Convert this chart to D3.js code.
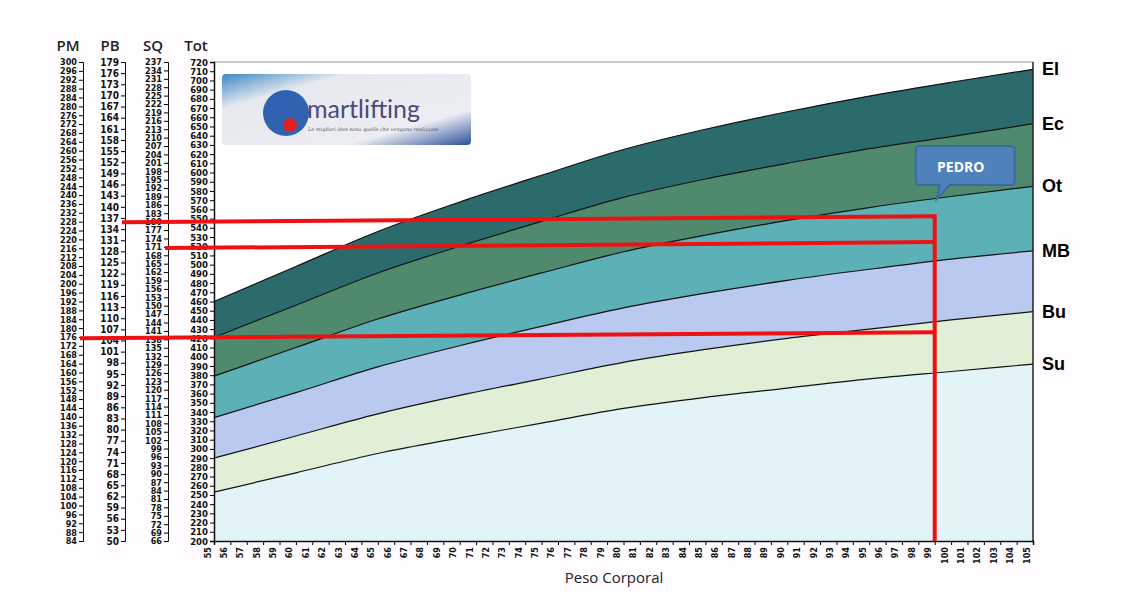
<!DOCTYPE html>
<html><head><meta charset="utf-8">
<script src="https://cdn.jsdelivr.net/npm/d3@7"></script>
<style>body{margin:0;background:#fff}</style></head>
<body><svg id="c" width="1121" height="609"></svg>
<script>
const weights=[55,60,65,70,75,80,85,90,95,100,105];
const El=[460,498,536,568,597,625,647,666,683,698,712];
const Ec=[421,456,491,520,547,573,593,610,626,639,653];
const Ot=[379,410,441,467,491,514,532,548,562,574,585];
const MB=[334,361,389,412,433,453,469,483,495,506,515];
const Bu=[290,314,338,358,376,394,408,420,430,440,449];
const Su=[253,274,295,312,328,344,356,366,376,384,392];
const bandNames=["El","Ec","Ot","MB","Bu","Su"];
const bandColors=["#2b6b6c","#4f8a6f","#5cb1b6","#b9c9ef","#e1efd7","#e2f4f8"];
const pedroWeight=99, pedroLines=[{tot:546,from:"PB"},{tot:518,from:"SQ"},{tot:420,from:"PM"}];
const pmTicks=d3.range(84,301,4), pbTicks=d3.range(50,180,3), sqTicks=d3.range(66,238,3), totTicks=d3.range(200,721,10);

const svg=d3.select("#c");
svg.append("rect").attr("width",1121).attr("height",609).attr("fill","#fefcfe");
const x=d3.scaleLinear().domain([55,105]).range([214,1033]);
const y=d3.scaleLinear().domain([200,720]).range([541,62]);
const series=[El,Ec,Ot,MB,Bu,Su];
svg.append("rect").attr("x",214).attr("y",62).attr("width",819).attr("height",479).attr("fill","#fff");
const area=d3.area().x((d,i)=>x(weights[i])).curve(d3.curveMonotoneX);
series.forEach((s,k)=>{
  const lower=k<5?series[k+1]:null;
  svg.append("path").datum(s).attr("fill",bandColors[k])
   .attr("d",area.y1(d=>y(d)).y0((d,i)=>lower?y(lower[i]):y(200)));
});
series.forEach(s=>svg.append("path").datum(s).attr("fill","none").attr("stroke","#111").attr("stroke-width",1.2)
  .attr("d",d3.line().x((d,i)=>x(weights[i])).y(d=>y(d)).curve(d3.curveMonotoneX)));
svg.append("line").attr("x1",214).attr("x2",1033).attr("y1",62).attr("y2",62).attr("stroke","#999");
svg.append("line").attr("x1",1033).attr("x2",1033).attr("y1",62).attr("y2",541).attr("stroke","#222").attr("stroke-width",1.5);
bandNames.forEach((n,k)=>svg.append("text").attr("x",1042).attr("y",y(series[k][10])+6).text(n)
  .attr("font-family","Liberation Sans, Arial").attr("font-weight","bold").attr("font-size",18));

const tf="DejaVu Sans Condensed";
// x axis
const xa=svg.append("g").attr("transform","translate(0,541)").call(d3.axisBottom(x).tickValues(d3.range(55,106)).tickSize(4).tickFormat(d3.format("d")));
xa.selectAll("text").attr("transform","rotate(-90)").attr("x",-6).attr("y",-4).attr("dy",0).attr("text-anchor","end")
 .attr("font-family",tf).attr("font-weight","bold").attr("font-size",9).attr("fill","#111");
xa.select(".domain").attr("stroke","#111").attr("stroke-width",1.5);
svg.append("text").attr("x",614).attr("y",583).attr("text-anchor","middle").text("Peso Corporal")
 .attr("font-family","Open Sans").attr("font-size",15).attr("fill","#222");

// left axes
function leftAxis(ticks,lo,hi,xpos,title,tx,fs){
  const s=d3.scaleLinear().domain([lo,hi]).range([541,62]);
  const g=svg.append("g").attr("transform",`translate(${xpos},0)`).call(d3.axisLeft(s).tickValues(ticks).tickSize(4).tickFormat(d3.format("d")));
  g.selectAll("text").attr("font-family",tf).attr("font-weight","bold").attr("font-size",fs).attr("fill","#111").attr("x",-6);
  g.select(".domain").attr("stroke","#111").attr("stroke-width",xpos==214?1.5:1);
  svg.append("text").attr("x",tx).attr("y",51).text(title).attr("text-anchor","middle")
   .attr("font-family","Open Sans").attr("font-weight","600").attr("font-size",15).attr("fill","#222");
  return s;
}
const scales={
 PM:[leftAxis(pmTicks,84,300,83,"PM",68,9),83],
 PB:[leftAxis(pbTicks,50,179,125,"PB",110,10),125],
 SQ:[leftAxis(sqTicks,66,237,168,"SQ",153,9),168]
};
leftAxis(totTicks,200,720,214,"Tot",196,9.5);

// logo
const lg=svg.append("defs").append("linearGradient").attr("id","lg").attr("x1",0).attr("x2",1).attr("y1",0).attr("y2",1);
[["0%","#3d88c6"],["25%","#e6e9ee"],["75%","#eceef3"],["100%","#2a4f9a"]].forEach(d=>lg.append("stop").attr("offset",d[0]).attr("stop-color",d[1]));
svg.append("rect").attr("x",222).attr("y",74).attr("width",249).attr("height",71).attr("rx",4).attr("fill","url(#lg)");
svg.append("circle").attr("cx",286).attr("cy",113).attr("r",23).attr("fill","#2f62b0");
svg.append("circle").attr("cx",290).attr("cy",125).attr("r",7).attr("fill","#d22");
svg.append("text").attr("x",307).attr("y",118).text("martlifting").attr("font-family","Lato").attr("font-size",25).attr("fill","#4a4a7a");
svg.append("text").attr("x",308).attr("y",131).text("Le migliori idee sono quelle che vengono realizzate").attr("font-family","DejaVu Serif").attr("font-style","italic").attr("font-size",5).attr("fill","#555");

// Pedro lines
const px=x(pedroWeight);
pedroLines.forEach(l=>svg.append("line").attr("x1",scales[l.from][1]-3).attr("x2",px).attr("y1",y(l.tot)).attr("y2",y(l.tot)-6)
  .attr("stroke","#ee1111").attr("stroke-width",4));
svg.append("line").attr("x1",px).attr("x2",px).attr("y1",y(pedroLines[0].tot)-8).attr("y2",541).attr("stroke","#ee1111").attr("stroke-width",4);
svg.append("path").attr("d",`M${px-15},146 h91 q4,0 4,4 v31 q0,4 -4,4 h-61 l-13,14 l3,-14 h-20 q-4,0 -4,-4 v-31 q0,-4 4,-4 z`)
  .attr("fill","#4f81bd").attr("stroke","#3d6a9e").attr("stroke-width",2);
svg.append("text").attr("x",px+26).attr("y",172).attr("text-anchor","middle").text("PEDRO")
  .attr("font-family","Open Sans").attr("font-weight","bold").attr("font-size",14).attr("fill","#fff");
</script></body></html>
